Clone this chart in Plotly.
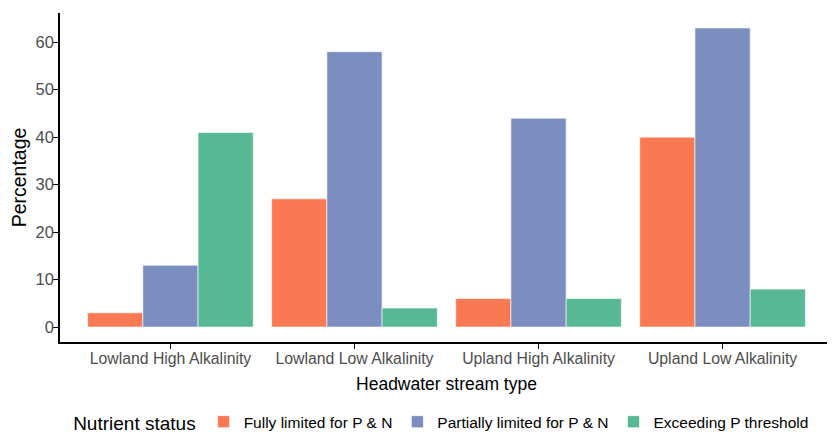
import plotly.graph_objects as go

categories = ["Lowland High Alkalinity", "Lowland Low Alkalinity", "Upland High Alkalinity", "Upland Low Alkalinity"]
fully_limited = [3, 27, 6, 40]
partially_limited = [13, 58, 44, 63]
exceeding_p = [41, 4, 6, 8]
series_names = ["Fully limited for P & N", "Partially limited for P & N", "Exceeding P threshold"]
colors = ["#F97A52", "#7B8EBF", "#57B994"]
y_ticks = [0, 10, 20, 30, 40, 50, 60]

fig = go.Figure()
for name, vals, col in zip(series_names, [fully_limited, partially_limited, exceeding_p], colors):
    fig.add_trace(go.Bar(x=categories, y=vals, name=name,
                         marker=dict(color=col, line=dict(color="white", width=0.6))))

font_family = "Liberation Sans, Arial, sans-serif"
fig.update_layout(
    width=827, height=426,
    barmode="group", bargap=0.1, bargroupgap=0,
    plot_bgcolor="white", paper_bgcolor="white",
    margin=dict(l=52, r=2, t=5, b=92, autoexpand=False),
    font=dict(family=font_family, color="black"),
    xaxis=dict(range=[-0.6, 3.6], showline=True, linecolor="black", linewidth=1.5,
               ticks="outside", ticklen=5, tickcolor="black", tickwidth=1.2,
               tickfont=dict(size=15.8, color="#4D4D4D"), automargin=False,
               ticklabelstandoff=-4,
               title=dict(text="Headwater stream type", font=dict(size=17.5, color="black"), standoff=12),
               showgrid=False, zeroline=False),
    yaxis=dict(range=[-3.15, 66.15], showline=True, linecolor="black", linewidth=1.5,
               ticks="outside", ticklen=5, tickcolor="black", tickwidth=1.2,
               tickvals=y_ticks, tickfont=dict(size=16.5, color="#4D4D4D"), automargin=False,
               ticklabelstandoff=-4,
               title=dict(text="Percentage", font=dict(size=19.5, color="black"), standoff=6),
               showgrid=False, zeroline=False),
    legend=dict(orientation="h", x=0.495, xanchor="center", y=-0.245, yanchor="middle",
                title=dict(text="Nutrient status", font=dict(size=19, color="black")),
                font=dict(size=15.5, color="black"), itemwidth=30, tracegroupgap=0),
)

fig.write_html("out.html")
